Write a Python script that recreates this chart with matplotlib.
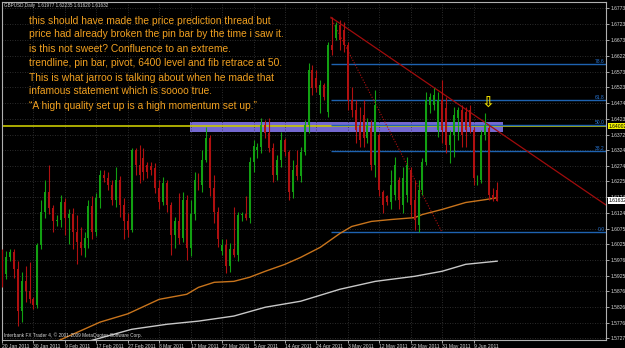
import matplotlib
matplotlib.use('Agg')
import matplotlib.pyplot as plt
from matplotlib.patches import Rectangle
from matplotlib.transforms import blended_transform_factory

# GBPUSD daily bars, 20 Jan 2011 - 16 Jun 2011
opens = [1.5993, 1.5930, 1.5984, 1.6000, 1.5946, 1.5813, 1.5908, 1.5876, 1.5851, 1.5832,
         1.6022, 1.6129, 1.6192, 1.6142, 1.6098, 1.6104, 1.6161, 1.6110, 1.6123, 1.6066,
         1.6034, 1.6015, 1.6047, 1.6148, 1.6066, 1.6173, 1.6246, 1.6237, 1.6212, 1.6167,
         1.6230, 1.6151, 1.6098, 1.6072, 1.6325, 1.6278, 1.6300, 1.6278, 1.6275, 1.6268,
         1.6205, 1.6161, 1.6221, 1.6151, 1.6056, 1.6098, 1.6047, 1.6167, 1.6015, 1.6120,
         1.6230, 1.6212, 1.6294, 1.6363, 1.6205, 1.6129, 1.6003, 1.6022, 1.5958, 1.6009,
         1.5993, 1.6117, 1.6123, 1.6110, 1.6287, 1.6325, 1.6335, 1.6405, 1.6379, 1.6332,
         1.6246, 1.6294, 1.6357, 1.6319, 1.6192, 1.6278, 1.6243, 1.6319, 1.6405, 1.6579,
         1.6553, 1.6499, 1.6531, 1.6446, 1.6658, 1.6680, 1.6721, 1.6705, 1.6658, 1.6484,
         1.6452, 1.6405, 1.6436, 1.6363, 1.6395, 1.6278, 1.6373, 1.6192, 1.6177, 1.6161,
         1.6183, 1.6230, 1.6151, 1.6183, 1.6262, 1.6167, 1.6088, 1.6199, 1.6287, 1.6468,
         1.6468, 1.6389, 1.6484, 1.6458, 1.6341, 1.6373, 1.6427, 1.6452, 1.6446, 1.6452,
         1.6389, 1.6230, 1.6230, 1.6373, 1.6395, 1.6183, 1.61977]
highs = [1.6009, 1.6003, 1.6009, 1.6009, 1.5971, 1.5939, 1.5958, 1.5968, 1.5857, 1.6031,
         1.6167, 1.6230, 1.6278, 1.6151, 1.6117, 1.6183, 1.6173, 1.6136, 1.6142, 1.6117,
         1.6079, 1.6066, 1.6167, 1.6177, 1.6189, 1.6262, 1.6262, 1.6256, 1.6230, 1.6272,
         1.6243, 1.6173, 1.6126, 1.6332, 1.6332, 1.6341, 1.6332, 1.6287, 1.6287, 1.6284,
         1.6230, 1.6240, 1.6230, 1.6158, 1.6113, 1.6189, 1.6192, 1.6183, 1.6167, 1.6256,
         1.6253, 1.6325, 1.6398, 1.6373, 1.6246, 1.6145, 1.6041, 1.6041, 1.6028, 1.6145,
         1.6129, 1.6129, 1.6177, 1.6303, 1.6357, 1.6348, 1.6427, 1.6420, 1.6427, 1.6348,
         1.6310, 1.6382, 1.6363, 1.6325, 1.6294, 1.6325, 1.6335, 1.6420, 1.6601, 1.6594,
         1.6579, 1.6547, 1.6537, 1.6667, 1.6746, 1.6730, 1.6737, 1.6730, 1.6667, 1.6525,
         1.6484, 1.6461, 1.6484, 1.6427, 1.6420, 1.6515, 1.6379, 1.6199, 1.6183, 1.6262,
         1.6303, 1.6240, 1.6272, 1.6303, 1.6272, 1.6230, 1.6230, 1.6300, 1.6509, 1.6506,
         1.6522, 1.6509, 1.6547, 1.6493, 1.6389, 1.6461, 1.6461, 1.6468, 1.6461, 1.6468,
         1.6398, 1.6246, 1.6389, 1.6442, 1.6405, 1.6205, 1.62235]
lows = [1.5889, 1.5914, 1.5971, 1.5920, 1.5765, 1.5778, 1.5841, 1.5838, 1.5819, 1.5825,
        1.6009, 1.6110, 1.6120, 1.6066, 1.6085, 1.6079, 1.6056, 1.6025, 1.6009, 1.5962,
        1.5993, 1.5984, 1.6015, 1.6041, 1.6053, 1.6142, 1.6224, 1.6199, 1.6151, 1.6145,
        1.6113, 1.6041, 1.6050, 1.6063, 1.6246, 1.6221, 1.6230, 1.6237, 1.6246, 1.6189,
        1.6136, 1.6151, 1.6129, 1.5993, 1.6015, 1.6025, 1.6034, 1.5977, 1.5987, 1.6104,
        1.6199, 1.6192, 1.6287, 1.6177, 1.6094, 1.6018, 1.5990, 1.5936, 1.5939, 1.5984,
        1.5971, 1.6098, 1.6104, 1.6094, 1.6256, 1.6300, 1.6316, 1.6363, 1.6319, 1.6224,
        1.6230, 1.6272, 1.6306, 1.6167, 1.6173, 1.6230, 1.6224, 1.6310, 1.6379, 1.6499,
        1.6509, 1.6442, 1.6484, 1.6430, 1.6626, 1.6673, 1.6642, 1.6635, 1.6452, 1.6430,
        1.6348, 1.6335, 1.6335, 1.6348, 1.6262, 1.6240, 1.6177, 1.6126, 1.6151, 1.6136,
        1.6167, 1.6136, 1.6126, 1.6158, 1.6113, 1.6072, 1.6063, 1.6183, 1.6278, 1.6442,
        1.6452, 1.6367, 1.6348, 1.6316, 1.6284, 1.6303, 1.6357, 1.6335, 1.6335, 1.6379,
        1.6215, 1.6215, 1.6221, 1.6357, 1.6167, 1.6164, 1.61620]
closes = [1.5930, 1.5984, 1.6000, 1.5946, 1.5813, 1.5908, 1.5876, 1.5851, 1.5832, 1.6022,
          1.6129, 1.6192, 1.6142, 1.6098, 1.6104, 1.6161, 1.6110, 1.6123, 1.6066, 1.6034,
          1.6015, 1.6047, 1.6148, 1.6066, 1.6173, 1.6246, 1.6237, 1.6212, 1.6167, 1.6230,
          1.6151, 1.6098, 1.6072, 1.6325, 1.6278, 1.6246, 1.6256, 1.6256, 1.6262, 1.6205,
          1.6161, 1.6221, 1.6151, 1.6056, 1.6098, 1.6047, 1.6167, 1.6015, 1.6120, 1.6230,
          1.6212, 1.6294, 1.6363, 1.6205, 1.6129, 1.6041, 1.6022, 1.5958, 1.6009, 1.5993,
          1.6117, 1.6123, 1.6110, 1.6287, 1.6338, 1.6335, 1.6405, 1.6379, 1.6332, 1.6246,
          1.6294, 1.6357, 1.6319, 1.6192, 1.6262, 1.6243, 1.6319, 1.6405, 1.6579, 1.6522,
          1.6522, 1.6531, 1.6493, 1.6658, 1.6642, 1.6721, 1.6673, 1.6658, 1.6484, 1.6452,
          1.6389, 1.6357, 1.6363, 1.6405, 1.6278, 1.6468, 1.6199, 1.6151, 1.6161, 1.6215,
          1.6278, 1.6167, 1.6237, 1.6278, 1.6151, 1.6104, 1.6199, 1.6287, 1.6484, 1.6493,
          1.6499, 1.6484, 1.6389, 1.6341, 1.6373, 1.6436, 1.6452, 1.6373, 1.6389, 1.6398,
          1.6237, 1.6240, 1.6373, 1.6405, 1.6183, 1.6170, 1.61632]

# moving averages (sampled at bar numbers)
ma_fast_bars = [14, 25, 32, 40, 47, 50, 54, 59, 63, 67, 72, 76, 81, 86, 89, 94, 99, 105, 107, 112, 118, 123, 126]
ma_fast = [1.5718, 1.5779, 1.5805, 1.5851, 1.5867, 1.5889, 1.5905, 1.5908, 1.5921, 1.5940, 1.5962, 1.5984,
           1.6016, 1.6060, 1.6082, 1.6098, 1.6104, 1.6110, 1.6120, 1.6136, 1.6158, 1.6167, 1.6173]
ma_slow_bars = [22, 33, 42, 50, 59, 67, 76, 86, 95, 105, 112, 118, 126]
ma_slow = [1.5718, 1.5756, 1.5772, 1.5782, 1.5798, 1.5826, 1.5845, 1.5883, 1.5908, 1.5924, 1.5940, 1.5962, 1.5972]

date_labels = ['20 Jan 2011', '30 Jan 2011', '9 Feb 2011', '17 Feb 2011', '27 Feb 2011', '8 Mar 2011',
               '17 Mar 2011', '27 Mar 2011', '5 Apr 2011', '14 Apr 2011', '24 Apr 2011', '3 May 2011',
               '12 May 2011', '22 May 2011', '31 May 2011', '9 Jun 2011']
date_bars = list(range(0, 121, 8))
price_ticks = [1.67735, 1.67230, 1.66735, 1.66225, 1.65730, 1.65230, 1.64740, 1.64230, 1.63720, 1.63240,
               1.62745, 1.62250, 1.61745, 1.61245, 1.60750, 1.60255, 1.59760, 1.59258, 1.58760, 1.58260,
               1.57765, 1.57270]

fib_levels = [0.0, 38.2, 50.0, 61.8, 78.6]
fib_low, fib_high = 1.6063, 1.6743
fib_from, fib_to = 83.7, 112
trend_start = (83.7, 1.6745)
trend_end = (153.7, 1.6150)
pivot_level = 1.6400
zone = (47.8, 127.5, 1.6383, 1.6414)

notes = ["this should have made the price prediction thread but",
         "price had already broken the pin bar by the time i saw it.",
         "is this not sweet? Confluence to an extreme.",
         "trendline, pin bar, pivot, 6400 level and fib retrace at 50.",
         "This is what jarroo is talking about when he made that",
         "infamous statement which is soooo true.",
         "\u201cA high quality set up is a high momentum set up.\u201d"]
note_y = [20.7, 34.3, 49, 63.3, 77.7, 90.7, 106]

GREEN = '#12a012'
RED = '#b01010'
AXC = '#d8d8d8'
SMALL = 3.6

fig = plt.figure(figsize=(6.25, 3.48), dpi=100, facecolor='black')
ax = fig.add_axes([2/625, 8/348, 604/625, 338/348])
ax.set_facecolor('black')
ax.set_xlim(0, 153.7)
ax.set_ylim(1.57221, 1.67935)

# grid
ax.set_xticks(date_bars)
ax.set_xticklabels(date_labels, ha='left', fontsize=SMALL, color=AXC, family='Liberation Sans')
ax.set_yticks(price_ticks)
ax.set_yticklabels(['%.5f' % p for p in price_ticks], fontsize=SMALL, color=AXC, family='Liberation Sans')
ax.yaxis.tick_right()
ax.tick_params(axis='both', length=2, width=0.6, color='#c0c0c0', pad=1)
ax.grid(True, color='#3a3a3a', linestyle=(0, (1, 2)), linewidth=0.6)
for s in ax.spines.values():
    s.set_color('#b0b0b0')
    s.set_linewidth(0.8)

# zone + pivot line
ax.add_patch(Rectangle((zone[0], zone[2]), zone[1] - zone[0], zone[3] - zone[2],
                       facecolor='#7468d0', edgecolor='none', zorder=1))
ax.axhline(pivot_level, color='#c8c800', lw=1.2, zorder=2)

# fib retracement
for lev in fib_levels:
    p = fib_low + (fib_high - fib_low) * lev / 100
    ax.hlines(p, fib_from, 153.7, color='#1e62b0', lw=1, zorder=2)
    ax.text(153.4, p, '%.1f' % lev, ha='right', va='bottom', fontsize=SMALL, color='#2a78d8',
            family='Liberation Sans', zorder=5)
ax.plot([fib_from, fib_to], [fib_high, fib_low], color=RED, ls=(0, (1, 1.5)), lw=0.8, zorder=2)
ax.plot([trend_start[0], trend_end[0]], [trend_start[1], trend_end[1]], color='#a00c0c', lw=0.9, zorder=2)

# moving averages
ax.plot(ma_fast_bars, ma_fast, color='#c8741c', lw=1, zorder=3)
ax.plot(ma_slow_bars, ma_slow, color='#c8c8c8', lw=1, zorder=3)

# candles
for i, (o, h, l, c) in enumerate(zip(opens, highs, lows, closes)):
    col = GREEN if c >= o else RED
    ax.vlines(i, l, h, color=col, lw=0.8, zorder=4)
    ax.bar(i, max(abs(c - o), 0.00008), bottom=min(o, c), width=0.5, color=col, zorder=4)

ax.text(123.7, 1.6475, '\u21e9', ha='center', va='center', fontsize=11, color='#e8d800',
        family='DejaVu Sans', fontweight='bold', zorder=6)

# price labels on the right axis
tr = blended_transform_factory(ax.transAxes, ax.transData)
ax.text(1.004, pivot_level, '1.64002', transform=tr, fontsize=SMALL, color='black', va='center',
        family='Liberation Sans', bbox=dict(facecolor='#f0f000', edgecolor='none', pad=0.6),
        zorder=7, clip_on=False)
ax.text(1.004, closes[-1], '%.5f' % closes[-1], transform=tr, fontsize=SMALL, color='black', va='center',
        family='Liberation Sans', bbox=dict(facecolor='white', edgecolor='none', pad=0.6),
        zorder=7, clip_on=False)

# texts
fig.text(4/625, 1 - 6/348, 'GBPUSD,Daily  1.61977 1.62235 1.61620 1.61632', fontsize=3.3,
         color=AXC, va='center', family='Liberation Sans')
fig.text(4/625, 1 - 335/348, 'Interbank FX Trader 4, \u00a9 2001-2009 MetaQuotes Software Corp.',
         fontsize=3.4, color=AXC, va='center', family='Liberation Sans')
for t, y in zip(notes, note_y):
    fig.text(29/625, 1 - y/348, t, fontsize=7.4, color='#f0a020', va='center', family='Liberation Sans')

fig.savefig('out.png', dpi=100, facecolor='black')
